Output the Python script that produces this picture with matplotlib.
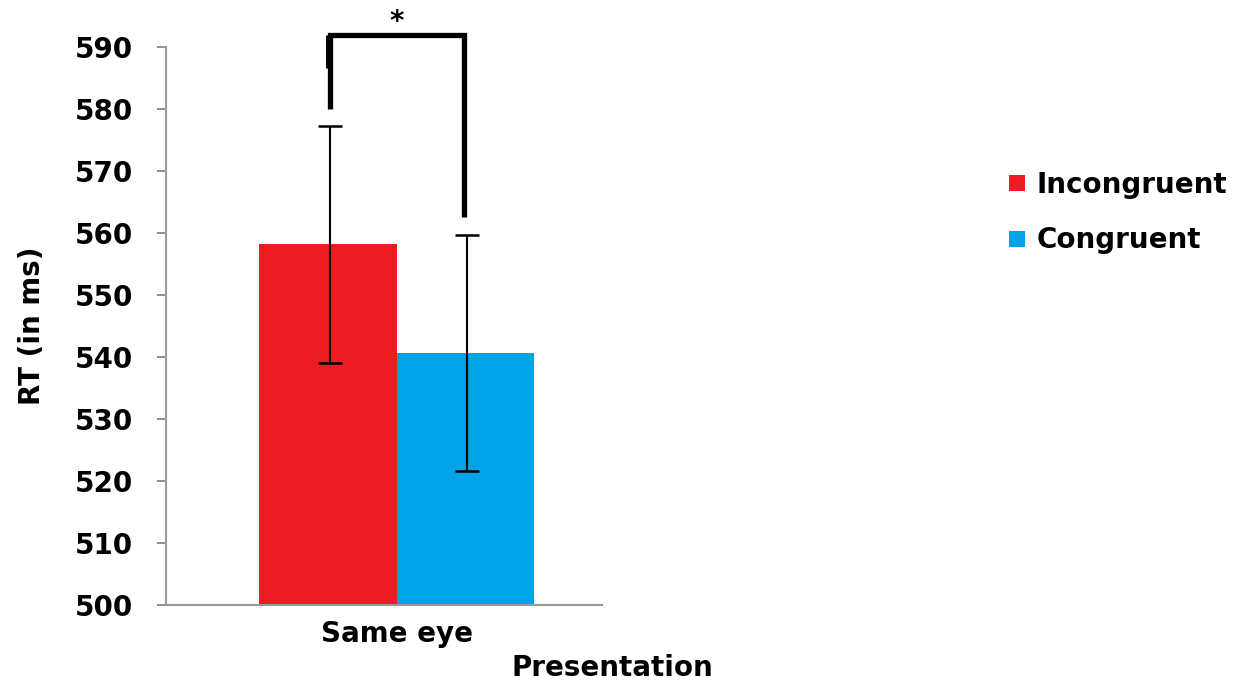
import matplotlib
matplotlib.use("Agg")
import matplotlib.pyplot as plt
from matplotlib.lines import Line2D

plt.rcParams['font.family'] = ['DejaVu Sans']
plt.rcParams['font.weight'] = 'bold'

# Data
category = "Same eye"
series = ["Incongruent", "Congruent"]
means = [558.2, 540.6]
errors = [19.1, 19.0]
colors = ["#ED1C24", "#00A2E8"]
yticks = list(range(500, 591, 10))
bracket_top = 591.9
bracket_left_bottom = 580.0
bracket_right_bottom = 562.6

fig = plt.figure(figsize=(12.34, 6.82), dpi=100)
ax = fig.add_axes([166/1234, 1-605/682, (602-166)/1234, (605-47)/682])

width = 0.35
positions = [-width/2, width/2]
for pos, m, e, c, lab in zip(positions, means, errors, colors, series):
    ax.bar(pos, m - 500, width=width, bottom=500, color=c, label=lab, zorder=2)
    ax.errorbar(pos + 0.004, m, yerr=e, fmt='none', ecolor='black',
                elinewidth=1.5, capsize=8.5, capthick=1.8, zorder=3)

ax.set_ylim(500, 590)
ax.set_xlim(-0.588, 0.522)
ax.set_yticks(yticks)
ax.set_yticklabels([str(t) for t in yticks], fontsize=20, fontweight='bold')
ax.set_xticks([0])
ax.set_xticklabels([category], fontsize=20, fontweight='bold')
ax.tick_params(axis='x', length=0, pad=11)
ax.tick_params(axis='y', direction='out', length=6.5, width=1.3, color='#888888', pad=17)

for s in ['top', 'right']:
    ax.spines[s].set_visible(False)
ax.spines['left'].set_color('#999999')
ax.spines['bottom'].set_color('#999999')
ax.spines['left'].set_linewidth(1.5)
ax.spines['bottom'].set_linewidth(1.5)

# Significance bracket
xl, xr = positions[0] + 0.004, positions[1] - 0.004
ax.plot([xl, xl, xr, xr], [bracket_left_bottom, bracket_top, bracket_top, bracket_right_bottom],
        color='black', lw=3.8, solid_capstyle='butt', solid_joinstyle='miter', clip_on=False, zorder=4)
ax.plot([xl - 0.002, xl - 0.002], [586.6, bracket_top], color='black', lw=5,
        solid_capstyle='butt', clip_on=False, zorder=4)
ax.text(0, 594.0, "*", ha='center', va='center', fontsize=20, fontweight='bold', clip_on=False)

ax.set_ylabel("RT (in ms)", fontsize=20, fontweight='bold')
ax.yaxis.set_label_coords((46 - 166) / (602 - 166), 0.5)
fig.text(612/1234, 1-668/682, "Presentation", ha='center', va='center', fontsize=20, fontweight='bold')

handles = [Line2D([], [], marker='s', linestyle='none', markersize=11, color=c,
                  markeredgewidth=0) for c in colors]
fig.legend(handles, series, loc='upper left', bbox_to_anchor=(1003/1234, 1-165/682),
           frameon=False, handlelength=0.6, handletextpad=0.4,
           labelspacing=1.0, borderaxespad=0, borderpad=0.2,
           prop={'weight': 'bold', 'size': 20})

fig.savefig("out.png", dpi=100)
